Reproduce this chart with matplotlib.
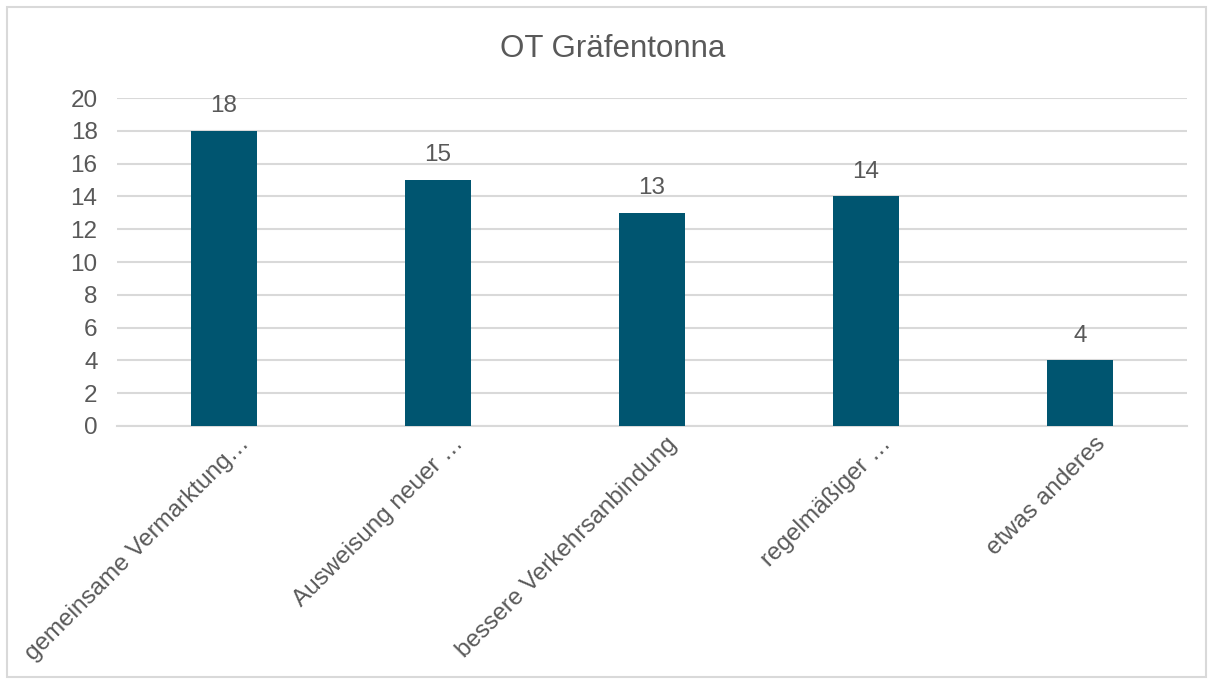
import matplotlib.pyplot as plt
from matplotlib.patches import Rectangle
from matplotlib.transforms import ScaledTranslation

# Chart data
categories = ['gemeinsame Vermarktung…', 'Ausweisung neuer …', 'bessere Verkehrsanbindung',
              'regelmäßiger …', 'etwas anderes']
values = [18, 15, 13, 14, 4]
title = 'OT Gräfentonna'

BAR_COLOR = '#005570'
TEXT_COLOR = '#595959'
GRID_COLOR = '#d9d9d9'

plt.rcParams['font.family'] = ['Liberation Sans', 'DejaVu Sans']

fig = plt.figure(figsize=(12.13, 6.84), dpi=100)
ax = fig.add_axes([0.0965, 0.3772, 0.8821, 0.4795])

x = range(len(categories))
bars = ax.bar(x, values, width=0.31, color=BAR_COLOR, zorder=3)

# value labels above bars
for b, v in zip(bars, values):
    ax.annotate(str(v), (b.get_x() + b.get_width() / 2, v), xytext=(0, 10),
                textcoords='offset points', ha='center', va='bottom',
                fontsize=17.5, color=TEXT_COLOR)

ax.set_xlim(-0.5, len(categories) - 0.5)
ax.set_ylim(0, 20)
ax.set_yticks(range(0, 21, 2))
ax.yaxis.grid(True, color=GRID_COLOR, linewidth=1.5, zorder=0)
ax.tick_params(axis='y', length=0, pad=14, labelsize=17.5, labelcolor=TEXT_COLOR)
ax.tick_params(axis='x', length=0, pad=5, labelsize=17.5, labelcolor=TEXT_COLOR)
ax.set_xticks(list(x))
ax.set_xticklabels(categories, rotation=45, ha='right', rotation_mode='anchor')

# nudge rotated category labels to the right, like the original
shift = ScaledTranslation(14 / 100, 0, fig.dpi_scale_trans)
for lbl in ax.get_xticklabels():
    lbl.set_transform(lbl.get_transform() + shift)

for side in ['top', 'right', 'left']:
    ax.spines[side].set_visible(False)
ax.spines['bottom'].set_color(GRID_COLOR)
ax.spines['bottom'].set_linewidth(1.5)

fig.text(0.505, 0.928, title, ha='center', va='center', fontsize=22.5, color=TEXT_COLOR)

# outer chart border
fig.patches.append(Rectangle((0.006, 0.010), 0.988, 0.980, transform=fig.transFigure,
                             fill=False, edgecolor=GRID_COLOR, linewidth=1.5))

fig.savefig('out.png', dpi=100)
